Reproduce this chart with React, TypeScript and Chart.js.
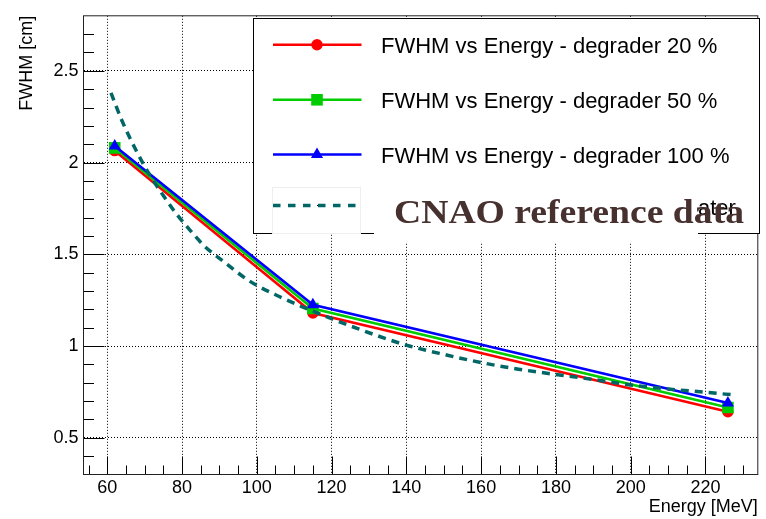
import { useEffect, useRef } from "react";
import { Chart, registerables } from "chart.js";

Chart.register(...registerables);

// ---- data ----
const energies = [62, 115, 226];
const fwhmDegrader20 = [2.065, 1.18, 0.642];
const fwhmDegrader50 = [2.08, 1.205, 0.665];
const fwhmDegrader100 = [2.09, 1.225, 0.69];

const cnaoEnergy = [61, 64, 67.5, 71, 75, 78.5, 82, 86, 91.5, 98, 106, 115, 127, 140, 151, 160, 170, 180, 190, 200, 210, 220, 228];
const cnaoFwhm = [2.38, 2.225, 2.075, 1.945, 1.82, 1.72, 1.635, 1.545, 1.455, 1.355, 1.27, 1.19, 1.095, 1.005, 0.95, 0.91, 0.874, 0.845, 0.818, 0.788, 0.766, 0.748, 0.733];

const xMajorTicks = [60, 80, 100, 120, 140, 160, 180, 200, 220];
const xTickLabels = ["60", "80", "100", "120", "140", "160", "180", "200", "220"];
const xMinorTicks = [55, 65, 70, 75, 85, 90, 95, 105, 110, 115, 125, 130, 135, 145, 150, 155, 165, 170, 175, 185, 190, 195, 205, 210, 215, 225, 230];
const yMajorTicks = [0.5, 1, 1.5, 2, 2.5];
const yTickLabels = ["0.5", "1", "1.5", "2", "2.5"];
const yMinorTicks = [0.4, 0.6, 0.7, 0.8, 0.9, 1.1, 1.2, 1.3, 1.4, 1.6, 1.7, 1.8, 1.9, 2.1, 2.2, 2.3, 2.4, 2.6, 2.7];

const legendLabels = [
  "FWHM vs Energy - degrader 20 %",
  "FWHM vs Energy - degrader 50 %",
  "FWHM vs Energy - degrader 100 %",
];
const hiddenLegendTail = "ater";
const overlayText = "CNAO reference data";

const X_MIN = 53.65;
const X_MAX = 234;
const Y_MIN = 0.3;
const Y_MAX = 2.8;

const RED = "#ff0000";
const GREEN = "#00cc00";
const BLUE = "#0000ff";
const TEAL = "#006666";
const SANS = '"Liberation Sans", Arial, sans-serif';
const LINE_W = 2.6;

function marker(ctx: CanvasRenderingContext2D, style: string, x: number, y: number, color: string) {
  ctx.fillStyle = color;
  ctx.beginPath();
  if (style === "circle") {
    ctx.arc(x, y, 5.7, 0, Math.PI * 2);
  } else if (style === "rect") {
    ctx.rect(x - 5.8, y - 5.8, 11.6, 11.6);
  } else {
    const r = 7;
    ctx.moveTo(x, y - r);
    ctx.lineTo(x + r * 0.866, y + r * 0.5);
    ctx.lineTo(x - r * 0.866, y + r * 0.5);
    ctx.closePath();
  }
  ctx.fill();
}

const rootStyle = {
  id: "rootStyle",
  beforeDatasetsDraw(chart: any) {
    const { ctx, chartArea: a, scales } = chart;
    const x = scales.x;
    const y = scales.y;
    ctx.save();
    ctx.strokeStyle = "#000";
    ctx.lineWidth = 1;
    ctx.setLineDash([]);
    ctx.beginPath();
    for (const v of xMajorTicks) {
      const px = Math.round(x.getPixelForValue(v)) + 0.5;
      ctx.moveTo(px, a.bottom);
      ctx.lineTo(px, a.bottom - 18);
    }
    for (const v of xMinorTicks) {
      const px = Math.round(x.getPixelForValue(v)) + 0.5;
      ctx.moveTo(px, a.bottom);
      ctx.lineTo(px, a.bottom - 9);
    }
    for (const v of yMajorTicks) {
      const py = Math.round(y.getPixelForValue(v)) + 0.5;
      ctx.moveTo(a.left, py);
      ctx.lineTo(a.left + 21, py);
    }
    for (const v of yMinorTicks) {
      const py = Math.round(y.getPixelForValue(v)) + 0.5;
      ctx.moveTo(a.left, py);
      ctx.lineTo(a.left + 10.5, py);
    }
    ctx.stroke();
    ctx.strokeStyle = "#222";
    ctx.strokeRect(a.left, a.top, a.right - a.left, a.bottom - a.top);
    ctx.restore();
  },
  afterDatasetsDraw(chart: any) {
    const { ctx } = chart;
    ctx.save();
    // legend box
    ctx.fillStyle = "#fff";
    ctx.fillRect(253.5, 18.5, 506, 215);
    ctx.strokeStyle = "#000";
    ctx.lineWidth = 1;
    ctx.strokeRect(253.5, 18.5, 506, 215);

    const rows = [44.7, 99.8, 154.5];
    const colors = [RED, GREEN, BLUE];
    const styles = ["circle", "rect", "triangle"];
    ctx.font = `22px ${SANS}`;
    ctx.textBaseline = "alphabetic";
    ctx.textAlign = "left";
    for (let i = 0; i < 3; i++) {
      ctx.strokeStyle = colors[i];
      ctx.lineWidth = LINE_W;
      ctx.beginPath();
      ctx.moveTo(273, rows[i]);
      ctx.lineTo(361.5, rows[i]);
      ctx.stroke();
      marker(ctx, styles[i], 317, rows[i], colors[i]);
      ctx.fillStyle = "#000";
      ctx.fillText(legendLabels[i], 381, rows[i] + 8);
    }
    // fourth entry (partially hidden by pasted overlay)
    ctx.fillStyle = "#000";
    ctx.fillText(hiddenLegendTail, 698, 215);

    // white pasted patch
    ctx.fillStyle = "#fff";
    ctx.fillRect(374, 184, 324, 58);
    // faint box around the dashed sample
    ctx.strokeStyle = "#eeeeee";
    ctx.lineWidth = 1;
    ctx.strokeRect(272.5, 187.5, 88, 46);
    ctx.strokeStyle = TEAL;
    ctx.lineWidth = 3.5;
    ctx.setLineDash([7.5, 7.5]);
    ctx.beginPath();
    ctx.moveTo(273, 205.5);
    ctx.lineTo(356, 205.5);
    ctx.stroke();
    ctx.setLineDash([]);
    ctx.fillStyle = "#000";
    ctx.fillRect(317, 205, 1, 1);

    // overlay text
    ctx.font = `bold 33px "Liberation Serif", "Times New Roman", serif`;
    const w = ctx.measureText(overlayText).width;
    ctx.translate(394, 223);
    ctx.scale(350 / w, 1);
    ctx.fillStyle = "#46312f";
    ctx.fillText(overlayText, 0, 0);
    ctx.restore();
  },
};

export default function App() {
  const canvasRef = useRef<HTMLCanvasElement | null>(null);

  useEffect(() => {
    document.body.style.margin = "0";
    const canvas = canvasRef.current;
    if (!canvas) return;
    const pts = (xs: number[], ys: number[]) => xs.map((v, i) => ({ x: v, y: ys[i] }));
    const tickFont = { family: SANS, size: 18 };
    const chart = new Chart(canvas, {
      type: "line",
      data: {
        datasets: [
          {
            label: legendLabels[0],
            data: pts(energies, fwhmDegrader20),
            borderColor: RED,
            backgroundColor: RED,
            borderWidth: LINE_W,
            pointStyle: "circle",
            pointRadius: 5.7,
            pointBorderWidth: 0,
            order: 4,
          },
          {
            label: legendLabels[1],
            data: pts(energies, fwhmDegrader50),
            borderColor: GREEN,
            backgroundColor: GREEN,
            borderWidth: LINE_W,
            pointStyle: "rect",
            pointRadius: 8.2,
            pointBorderWidth: 0,
            order: 3,
          },
          {
            label: legendLabels[2],
            data: pts(energies, fwhmDegrader100),
            borderColor: BLUE,
            backgroundColor: BLUE,
            borderWidth: LINE_W,
            pointStyle: "triangle",
            pointRadius: 7,
            pointBorderWidth: 0,
            order: 2,
          },
          {
            label: overlayText,
            data: pts(cnaoEnergy, cnaoFwhm),
            borderColor: TEAL,
            backgroundColor: TEAL,
            borderWidth: 3.5,
            borderDash: [8, 6],
            pointRadius: 0,
            cubicInterpolationMode: "monotone",
            order: 1,
          },
        ],
      },
      options: {
        responsive: false,
        maintainAspectRatio: false,
        animation: false,
        layout: { padding: { top: 10.5, right: 1.5, left: 0, bottom: 0 } },
        plugins: { legend: { display: false }, tooltip: { enabled: false } },
        scales: {
          x: {
            type: "linear",
            min: X_MIN,
            max: X_MAX,
            afterBuildTicks: (s: any) => {
              s.ticks = xMajorTicks.map((v) => ({ value: v }));
            },
            afterFit: (s: any) => {
              s.height = 44.5;
            },
            grid: { color: "#000", lineWidth: 1, drawTicks: false },
            border: { display: false, dash: [1, 2] },
            ticks: {
              color: "#000",
              font: tickFont,
              padding: 3,
              maxRotation: 0,
              autoSkip: false,
              callback: (_v: any, i: number) => xTickLabels[i],
            },
            title: {
              display: true,
              text: "Energy [MeV]",
              align: "end",
              color: "#000",
              font: tickFont,
              padding: { top: 0, bottom: 1 },
            },
          },
          y: {
            type: "linear",
            min: Y_MIN,
            max: Y_MAX,
            afterBuildTicks: (s: any) => {
              s.ticks = yMajorTicks.map((v) => ({ value: v }));
            },
            afterFit: (s: any) => {
              s.width = 83.5;
            },
            grid: { color: "#000", lineWidth: 1, drawTicks: false },
            border: { display: false, dash: [1, 2] },
            ticks: {
              color: "#000",
              font: tickFont,
              padding: 5,
              autoSkip: false,
              callback: (_v: any, i: number) => yTickLabels[i],
            },
            title: {
              display: true,
              text: "FWHM [cm]",
              align: "end",
              color: "#000",
              font: tickFont,
              padding: { top: 16, bottom: 0 },
            },
          },
        },
      },
      plugins: [rootStyle],
    } as any);
    return () => chart.destroy();
  }, []);

  return (
    <div style={{ width: 766, height: 519 }}>
      <canvas ref={canvasRef} width={766} height={519} style={{ display: "block" }} />
    </div>
  );
}
